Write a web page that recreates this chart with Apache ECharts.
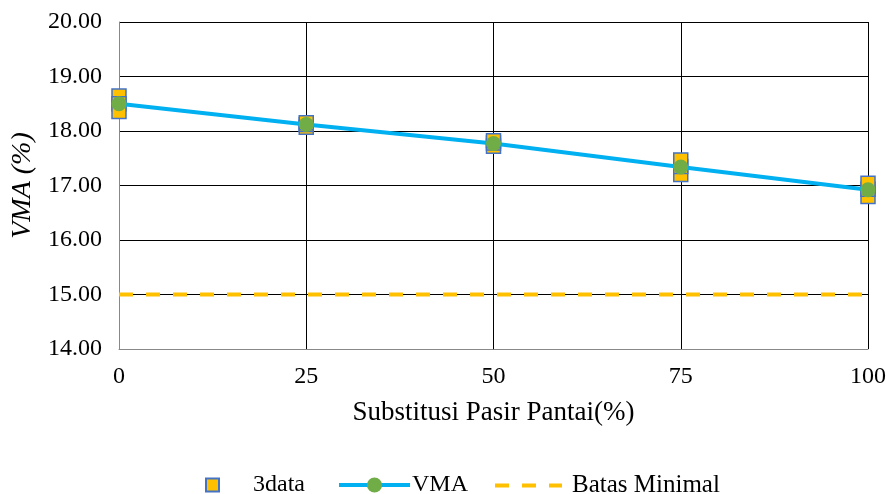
<!DOCTYPE html>
<html><head><meta charset="utf-8">
<script src="https://cdn.jsdelivr.net/npm/echarts@6/dist/echarts.min.js"></script>
<style>html,body{margin:0;padding:0;background:#fff}#c{width:886px;height:494px}</style>
</head><body><div id="c"></div>
<script>
var xValues = [0, 25, 50, 75, 100];
var vma = [18.50, 18.12, 17.77, 17.34, 16.92];
var data1 = [18.64, 18.07, 17.72, 17.20, 16.80];
var data2 = [18.50, 18.12, 17.78, 17.35, 16.93];
var data3 = [18.36, 18.15, 17.82, 17.47, 17.04];
var batasMinimal = [15, 15, 15, 15, 15];

var font = 'Liberation Serif';
var scatterData = [];
[data1, data2, data3].forEach(function (arr) {
  arr.forEach(function (v, i) { scatterData.push([xValues[i], v]); });
});
var chart = echarts.init(document.getElementById('c'));
chart.setOption({
  animation: false,
  grid: {left: 119, right: 18, top: 22, bottom: 145, outerBoundsMode: 'none', containLabel: false},
  xAxis: {
    type: 'value', min: 0, max: 100, interval: 25,
    name: 'Substitusi Pasir Pantai(%)', nameLocation: 'middle', nameGap: 50,
    nameTextStyle: {fontFamily: font, fontSize: 27, color: '#000'},
    axisLine: {show: true, lineStyle: {color: '#888', width: 1}},
    axisTick: {show: false},
    axisLabel: {fontFamily: font, fontSize: 24, color: '#000', margin: 16},
    splitLine: {show: true, lineStyle: {color: '#000', width: 1}}
  },
  yAxis: {
    type: 'value', min: 14, max: 20, interval: 1,
    name: 'VMA (%)', nameLocation: 'middle', nameGap: 70,
    nameTextStyle: {fontFamily: font, fontSize: 28, color: '#000', fontStyle: 'italic'},
    axisLine: {show: true, lineStyle: {color: '#888', width: 1}},
    axisTick: {show: false},
    axisLabel: {fontFamily: font, fontSize: 24, color: '#000', margin: 17,
      formatter: function (v) { return v.toFixed(2); }},
    splitLine: {show: true, lineStyle: {color: '#000', width: 1}}
  },
  legend: [
    {data: ['3data'], left: 200, top: 468, itemWidth: 13, itemHeight: 13,
     textStyle: {fontFamily: font, fontSize: 24, color: '#000', padding: [0, 0, 0, 29]}},
    {data: ['VMA'], left: 332, top: 468, itemWidth: 71, itemHeight: 19,
     lineStyle: {width: 4},
     textStyle: {fontFamily: font, fontSize: 24, color: '#000', padding: [0, 0, 0, -3]}},
    {data: ['Batas Minimal'], left: 488, top: 468, itemWidth: 67, itemHeight: 15,
     lineStyle: {width: 4, type: [14, 13]},
     itemStyle: {color: 'rgba(0,0,0,0)', borderWidth: 0, opacity: 0},
     textStyle: {fontFamily: font, fontSize: 25, color: '#000', padding: [0, 0, 0, 5]}}
  ],
  series: [
    {
      name: 'Batas Minimal', type: 'line', data: xValues.map(function (x, i) { return [x, batasMinimal[i]]; }),
      showSymbol: false, symbol: 'none',
      lineStyle: {color: '#FFC000', width: 4, type: [14, 13]},
      itemStyle: {color: '#FFC000'}, z: 2
    },
    {
      name: '3data', type: 'scatter', data: scatterData,
      symbol: 'rect', symbolSize: 14,
      itemStyle: {color: '#FFC000', borderColor: '#4472C4', borderWidth: 1.5, opacity: 1}, z: 3
    },
    {
      name: 'VMA', type: 'line', data: xValues.map(function (x, i) { return [x, vma[i]]; }),
      symbol: 'circle', symbolSize: 15, showSymbol: true,
      lineStyle: {color: '#00B0F0', width: 4},
      itemStyle: {color: '#70AD47'}, z: 4
    }
  ]
});
</script></body></html>
